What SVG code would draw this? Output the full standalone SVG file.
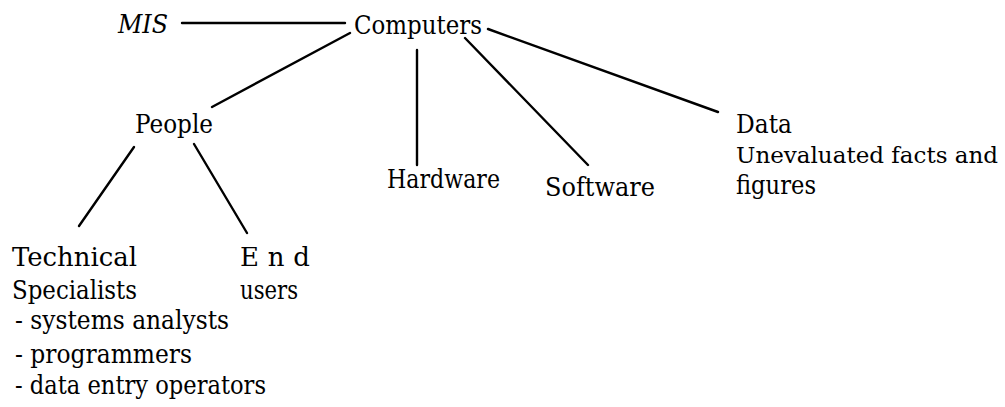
<svg xmlns="http://www.w3.org/2000/svg" width="1005" height="407" viewBox="0 0 1005 407">
<style>
text{font-family:"DejaVu Serif","Liberation Serif",serif;font-size:26px;fill:#000}
.it{font-style:italic}
.sm{font-size:23px}
.c line{stroke:#000;stroke-width:2.4;stroke-linecap:round}
</style>
<rect width="1005" height="407" fill="#fff"/>
<g class="c" id="connectors">
<line x1="182" y1="23" x2="345" y2="23"/>
<line x1="350" y1="33" x2="212" y2="107"/>
<line x1="417" y1="50" x2="417" y2="165"/>
<line x1="465" y1="38" x2="588" y2="165"/>
<line x1="488" y1="29" x2="718" y2="112"/>
<line x1="134" y1="147" x2="79" y2="226"/>
<line x1="194" y1="144" x2="247" y2="233"/>
</g>
<g id="mis"><text class="it" x="118" y="33" textLength="50" lengthAdjust="spacingAndGlyphs">MIS</text></g>
<g id="computers"><text x="354" y="34" textLength="128" lengthAdjust="spacingAndGlyphs">Computers</text></g>
<g id="people"><text x="135" y="133" textLength="78" lengthAdjust="spacingAndGlyphs">People</text></g>
<g id="hardware"><text x="387" y="188" textLength="113" lengthAdjust="spacingAndGlyphs">Hardware</text></g>
<g id="software"><text x="545" y="196" textLength="110" lengthAdjust="spacingAndGlyphs">Software</text></g>
<g id="data">
<text x="736" y="133" textLength="56" lengthAdjust="spacingAndGlyphs">Data</text>
<text class="sm" x="736" y="163" textLength="262" lengthAdjust="spacingAndGlyphs">Unevaluated facts and</text>
<text x="736" y="194" textLength="80" lengthAdjust="spacingAndGlyphs">figures</text>
</g>
<g id="technical">
<text x="12" y="266" textLength="125" lengthAdjust="spacingAndGlyphs">Technical</text>
<text x="12" y="299" textLength="125" lengthAdjust="spacingAndGlyphs">Specialists</text>
<text x="15" y="329" textLength="214" lengthAdjust="spacingAndGlyphs">- systems analysts</text>
<text x="15" y="363" textLength="177" lengthAdjust="spacingAndGlyphs">- programmers</text>
<text x="15" y="394" textLength="251" lengthAdjust="spacingAndGlyphs">- data entry operators</text>
</g>
<g id="endusers">
<text x="240" y="266" textLength="70" lengthAdjust="spacing">E n d</text>
<text x="240" y="299" textLength="58" lengthAdjust="spacingAndGlyphs">users</text>
</g>
</svg>
